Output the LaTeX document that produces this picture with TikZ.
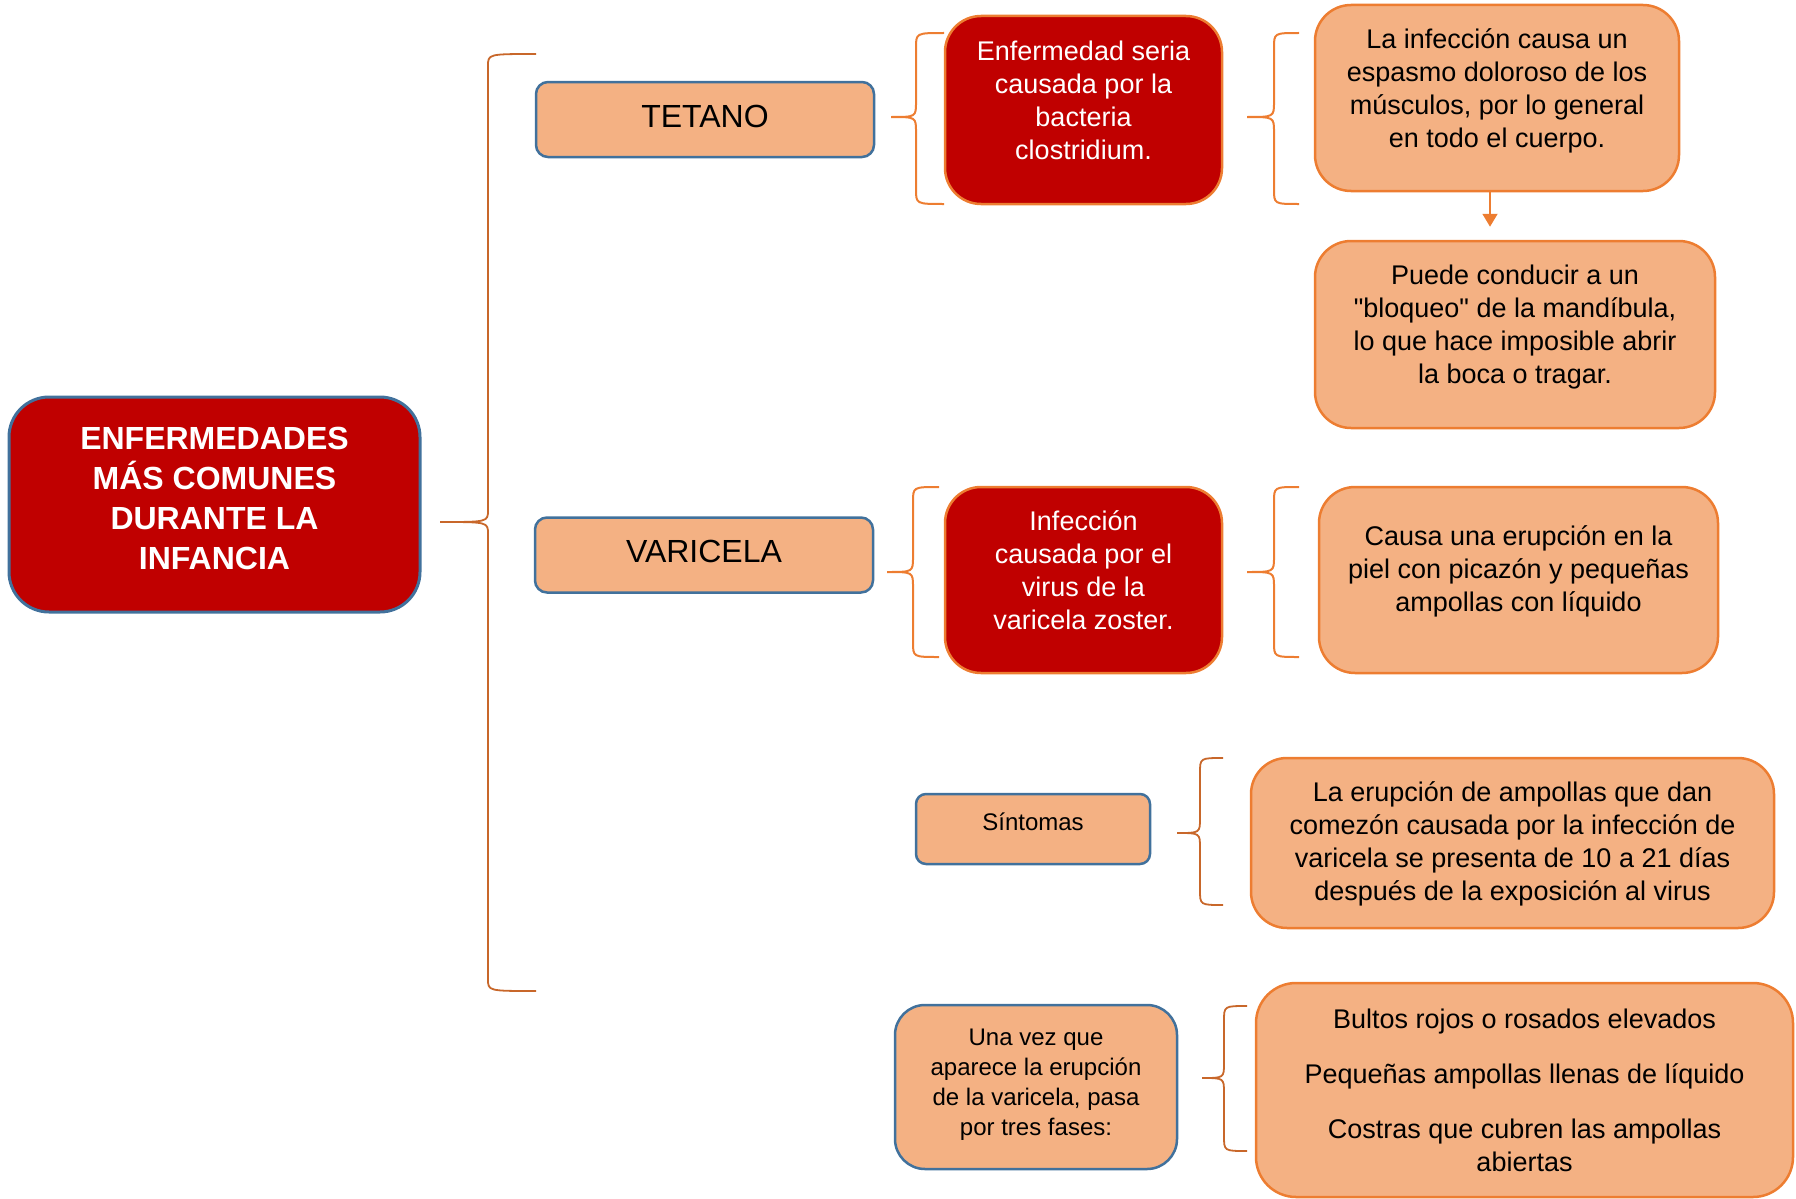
\documentclass[tikz,border=0pt]{standalone}
\usepackage{fontspec}
\setmainfont{Liberation Sans}[Ligatures=TeXOff]
\usetikzlibrary{arrows.meta,calc}
\definecolor{dred}{HTML}{C00000}
\definecolor{peach}{HTML}{F4B183}
\definecolor{ora}{HTML}{ED7D31}
\definecolor{blu}{HTML}{41719C}
\definecolor{brn}{HTML}{C8672A}
% #1 xe, #2 xv, #3 xt, #4 yt, #5 ym, #6 yb, #7 r
\newcommand{\mybrace}[7]{(#1,#4) .. controls (#2,#4) .. (#2,#4+#7) -- (#2,#5-#7) .. controls (#2,#5) .. (#3,#5) .. controls (#2,#5) .. (#2,#5+#7) -- (#2,#6-#7) .. controls (#2,#6) .. (#1,#6)}
\begin{document}
\begin{tikzpicture}[x=1pt,y=-1pt,
  box/.style={rectangle, align=center, inner sep=0pt, line width=2.5pt},
  redbox/.style={box, fill=dred, draw=ora, text=white, rounded corners=36pt, font=\fontsize{27}{33}\selectfont},
  peachbox/.style={box, fill=peach, draw=ora, rounded corners=36pt, font=\fontsize{27}{33}\selectfont},
  bluebox/.style={box, fill=peach, draw=blu},
  brace/.style={draw=ora, line width=2pt},
  dbrace/.style={draw=brn, line width=1.8pt},
  arr/.style={draw=ora, line width=2pt, -{Triangle[width=15pt,length=13pt]}}]
\useasboundingbox (0,0) rectangle (1796,1199);

% main
\node[bluebox, fill=dred, text=white, rounded corners=40pt, line width=3pt,
  minimum width=411pt, minimum height=215pt, text depth=13pt,
  font=\bfseries\fontsize{32}{40}\selectfont] (main) at (214.5,504.5)
  {ENFERMEDADES\\MÁS COMUNES\\DURANTE LA\\INFANCIA};

% level 1
\node[bluebox, rounded corners=12pt, minimum width=338pt, minimum height=75pt,
  text depth=7pt, font=\fontsize{32}{38}\selectfont] (tet) at (705,119.5) {TETANO};
\node[bluebox, rounded corners=12pt, minimum width=338pt, minimum height=75pt,
  text depth=7pt, font=\fontsize{32}{38}\selectfont] (var) at (704,555) {VARICELA};

% tetano branch
\node[redbox, minimum width=277pt, minimum height=188pt, text depth=19pt] (r1) at (1083.5,110)
  {Enfermedad seria\\causada por la\\bacteria\\clostridium.};
\node[peachbox, minimum width=364pt, minimum height=186pt, text depth=19pt] (inf) at (1497,98)
  {La infección causa un\\espasmo doloroso de los\\músculos, por lo general\\en todo el cuerpo.};
\node[peachbox, minimum width=400pt, minimum height=187pt, text depth=21pt] (pue) at (1515,334.5)
  {Puede conducir a un\\"bloqueo" de la mandíbula,\\lo que hace imposible abrir\\la boca o tragar.};

% varicela branch
\node[redbox, minimum width=277pt, minimum height=186pt, text depth=20pt] (r2) at (1083.5,580)
  {Infección\\causada por el\\virus de la\\varicela zoster.};
\node[peachbox, minimum width=399pt, minimum height=186pt, text depth=23pt] (cau) at (1518.5,580)
  {Causa una erupción en la\\piel con picazón y pequeñas\\ampollas con líquido};

% sintomas
\node[bluebox, rounded corners=10pt, minimum width=234pt, minimum height=70pt,
  text depth=14pt, font=\fontsize{24}{29}\selectfont] (sin) at (1033,829) {Síntomas};
\node[peachbox, minimum width=523pt, minimum height=170pt, text depth=3pt] (eru) at (1512.5,843)
  {La erupción de ampollas que dan\\comezón causada por la infección de\\varicela se presenta de 10 a 21 días\\después de la exposición al virus};

% fases
\node[bluebox, rounded corners=30pt, minimum width=282pt, minimum height=164pt,
  text depth=10pt, font=\fontsize{24}{30}\selectfont] (una) at (1036,1087)
  {Una vez que\\aparece la erupción\\de la varicela, pasa\\por tres fases:};
\node[peachbox, rounded corners=40pt, minimum width=537pt, minimum height=214pt] (bul) at (1524.5,1090)
  {Bultos rojos o rosados elevados\\[22pt]Pequeñas ampollas llenas de líquido\\[22pt]Costras que cubren las ampollas\\abiertas};

% braces
\draw[dbrace] \mybrace{536}{488}{440}{54}{522}{991}{12};
\draw[brace] \mybrace{944}{916}{891}{33}{117}{204}{15};
\draw[brace] \mybrace{1299}{1274}{1247}{33}{117}{204}{15};
\draw[brace] \mybrace{939}{913}{887}{487}{572}{657}{15};
\draw[brace] \mybrace{1299}{1274}{1247}{487}{572}{657}{15};
\draw[dbrace] \mybrace{1223}{1200}{1177}{758}{833}{905}{15};
\draw[dbrace] \mybrace{1247}{1224}{1202}{1006}{1078}{1151}{15};

% arrow
\draw[arr, shorten >=13pt] ([xshift=-7pt]inf.south) -- ([xshift=-7pt]inf.south |- pue.north);
\end{tikzpicture}
\end{document}
